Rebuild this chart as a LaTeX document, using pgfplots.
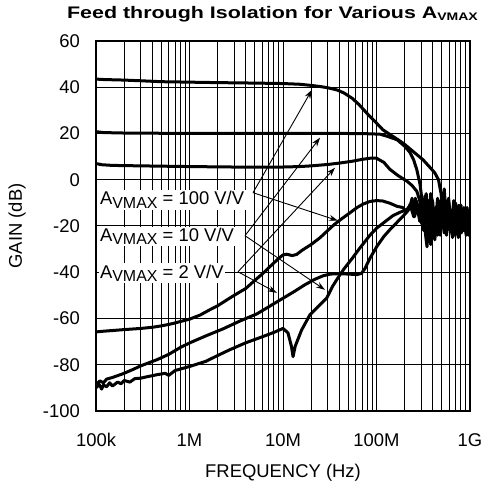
\documentclass[border=0pt]{standalone}
\usepackage{graphicx}
\usepackage{fontspec}
\setmainfont{Liberation Sans}
\usepackage{pgfplots}
\pgfplotsset{compat=1.18}
\usetikzlibrary{arrows.meta}
\newcommand{\avmax}{A\raisebox{-3.5bp}{\fontsize{16}{16}\selectfont VMAX}}
\begin{document}
\begin{tikzpicture}
\begin{axis}[
  scale only axis, width=374bp, height=370bp,
  xmode=log, xmin=1e5, xmax=1e9, ymin=-100, ymax=60,
  font=\fontsize{18.5}{22}\selectfont,
  xtick={1e5,1e6,1e7,1e8,1e9}, xticklabels={100k,1M,10M,100M,1G},
  ytick={-100,-80,-60,-40,-20,0,20,40,60},
  yticklabels={-100,-80,-60,-40,-20,0,20,40,60},
  major tick length=0pt, minor tick length=0pt,
  grid=both,
  major grid style={black, line width=1bp},
  minor grid style={black, line width=1bp},
  axis line style={line width=1.8bp},
  xticklabel style={anchor=base, yshift=-35bp, inner sep=0pt},
  yticklabel style={anchor=east, inner sep=0pt, xshift=-16bp},
  xlabel={FREQUENCY (Hz)}, ylabel={GAIN (dB)},
  xlabel style={at={(axis description cs:0.5,0)}, anchor=base, yshift=-66bp, inner sep=0pt},
  ylabel style={at={(axis description cs:0,0.5)}, anchor=center, rotate=0, yshift=79bp, inner sep=0pt},
  title={\scalebox{1.28}[1]{\bfseries\fontsize{16.8}{20}\selectfont Feed through Isolation for Various A\raisebox{-2.4bp}{\fontsize{11}{11}\selectfont VMAX}}},
  title style={at={(axis description cs:0,1)}, anchor=base, xshift=176.5bp, yshift=16.7bp, inner sep=0pt},
  cycle list={{black, mark=none}},
  every axis plot/.append style={line width=3bp, line join=round, line cap=round},
]
% gain 100, high
\addplot table {
1e5 43.6
1.1e5 43.4
1.3e5 43.3
2e5 43.1
3e5 42.8
5e5 42.4
1e6 42.2
2e6 42.0
5e6 41.8
1e7 41.6
1.5e7 41.3
2e7 40.8
2.5e7 40.3
3e7 39.8
3.8e7 38.8
4.5e7 37.5
5.5e7 35.2
6.5e7 32.5
8e7 28.5
1e8 24.5
1.17e8 21.6
1.4e8 19.5
1.7e8 17.3
2e8 15.3
2.5e8 12
3.15e8 8.6
3.7e8 5.5
4.2e8 3
4.6e8 0
4.9e8 -6
5.1e8 -12
5.3e8 -4
5.6e8 -18
5.9e8 -8
6.3e8 -21
6.7e8 -9
7.1e8 -20
7.6e8 -11
8.1e8 -23
8.6e8 -12
9.1e8 -21
9.6e8 -14
1e9 -19
};
% gain 10, high
\addplot table {
1e5 20.8
1.2e5 20.4
2e5 20.2
5e5 20.1
1e6 20.0
1e7 20.0
5e7 20.0
8e7 19.9
1.09e8 19.7
1.3e8 18.8
1.66e8 17.3
2e8 14.5
2.29e8 11.7
2.5e8 8.5
2.7e8 4.3
2.92e8 -2
3.05e8 -8
3.2e8 -15
3.35e8 -24
3.47e8 -29
3.6e8 -18
3.8e8 -6
4e8 -10
4.2e8 -22
4.5e8 -8
4.8e8 -24
5.1e8 -12
5.5e8 -20
5.9e8 -9
6.4e8 -23
6.9e8 -12
7.4e8 -24
8e8 -11
8.6e8 -22
9.2e8 -14
9.6e8 -24
1e9 -19
};
% gain 2, high
\addplot table {
1e5 7.0
1.15e5 6.5
1.5e5 6.2
3e5 6.0
1e6 5.7
3e6 5.5
1e7 5.5
1.5e7 5.7
2e7 6.0
3e7 6.6
4e7 7.2
5.5e7 8.0
7e7 8.8
8.5e7 9.3
1e8 9.3
1.2e8 7.5
1.39e8 4.5
1.7e8 1.8
2.13e8 -0.7
2.4e8 -2.5
2.7e8 -5
2.9e8 -9
3.1e8 -20
3.25e8 -12
3.4e8 -6
3.6e8 -22
3.9e8 -10
4.2e8 -26
4.5e8 -13
4.8e8 -22
5.2e8 -9
5.6e8 -24
6e8 -13
6.5e8 -21
7e8 -10
7.5e8 -24
8.1e8 -14
8.7e8 -22
9.3e8 -12
1e9 -22
};
% gain 100, low
\addplot table {
1e5 -65.8
1.2e5 -65.5
1.5e5 -65.2
2e5 -64.8
3e5 -64.3
4e5 -63.8
5e5 -63.2
6.6e5 -62.2
8e5 -61.3
1e6 -60.3
1.3e6 -58.5
1.6e6 -56.5
2e6 -54.5
2.5e6 -52
3e6 -50
4e6 -47
5e6 -43.5
6.1e6 -40.5
7.5e6 -37
9e6 -34
1.0e7 -32.5
1.1e7 -32.2
1.25e7 -32.8
1.4e7 -32.3
1.6e7 -30.5
2e7 -28
2.5e7 -25
3e7 -22
3.5e7 -19.5
4.2e7 -17
5.2e7 -14.3
6.2e7 -12
7.2e7 -10.5
8.5e7 -9.4
1e8 -9
1.17e8 -9.2
1.4e8 -10.2
1.66e8 -11.5
1.91e8 -12
2.1e8 -14
2.25e8 -12.5
2.4e8 -8
2.55e8 -16
2.7e8 -11
2.9e8 -18
3.1e8 -10
3.3e8 -20
3.6e8 -9
3.9e8 -23
4.3e8 -12
4.7e8 -21
5.2e8 -10
5.7e8 -22
6.2e8 -13
6.8e8 -24
7.4e8 -12
8e8 -21
8.7e8 -14
9.3e8 -23
1e9 -17
};
% gain 10, low
\addplot table {
1e5 -88.5
1.1e5 -87.0
1.2e5 -87.8
1.3e5 -86.2
1.5e5 -85.5
1.94e5 -83.9
2.5e5 -82
3e5 -80.5
4.5e5 -77.8
6e5 -75.5
8e5 -72.5
1.01e6 -70.5
1.5e6 -67.5
2.28e6 -64.5
3.5e6 -61
5.26e6 -58
7e6 -55
9.3e6 -52
1.3e7 -48.5
1.7e7 -45.5
2.2e7 -43
2.7e7 -41.5
3.2e7 -40.8
4e7 -40.6
5e7 -40.8
6.2e7 -41
6.9e7 -40.5
7.5e7 -38.5
8.5e7 -34
1.01e8 -28.8
1.2e8 -24.5
1.39e8 -21.6
1.65e8 -18.5
1.91e8 -15.9
2.1e8 -14
2.3e8 -10.5
2.45e8 -14
2.6e8 -8
2.8e8 -15
3e8 -12
3.2e8 -22
3.45e8 -11
3.7e8 -25
4e8 -14
4.4e8 -20
4.8e8 -9
5.3e8 -23
5.8e8 -12
6.3e8 -22
6.9e8 -14
7.5e8 -25
8.2e8 -13
8.9e8 -21
9.5e8 -15
1e9 -24
};
% gain 2, low
\addplot table {
1e5 -90
1.08e5 -88.5
1.15e5 -90.5
1.2e5 -88.8
1.3e5 -89.5
1.4e5 -87.8
1.5e5 -89.2
1.7e5 -87.5
1.85e5 -88.2
2e5 -86.8
2.3e5 -87.5
2.6e5 -86
3e5 -85.8
3.5e5 -85.2
4.5e5 -84.3
5.5e5 -83.7
6e5 -84.6
7e5 -82.5
1.01e6 -80.7
1.5e6 -78.5
2.0e6 -76
2.7e6 -73.5
4e6 -70.5
6.1e6 -67.8
8e6 -66
1e7 -64.3
1.13e7 -66.2
1.23e7 -72
1.28e7 -76.5
1.35e7 -72
1.58e7 -65
1.94e7 -58.4
2.5e7 -54
2.95e7 -51
3.4e7 -46
4e7 -41.5
4.5e7 -38.5
5.5e7 -34
6.5e7 -30
8.5e7 -24
1e8 -21
1.2e8 -18.5
1.5e8 -15.5
1.8e8 -14
2.1e8 -13
2.3e8 -11
2.5e8 -16
2.65e8 -9
2.85e8 -13
3.05e8 -19
3.3e8 -7
3.55e8 -16
3.8e8 -28
4.1e8 -13
4.5e8 -24
4.9e8 -11
5.4e8 -21
5.9e8 -14
6.5e8 -25
7.1e8 -11
7.8e8 -20
8.5e8 -15
9.1e8 -24
1e9 -21
};
% labels and arrows
\node[fill=white, inner sep=1.5bp, anchor=base west] at (axis cs:1.06e5,-10.8) {\avmax{} = 100 V/V};
\node[fill=white, inner sep=1.5bp, anchor=base west] at (axis cs:1.06e5,-26.7) {\avmax{} = 10 V/V};
\node[fill=white, inner sep=1.5bp, anchor=base west] at (axis cs:1.06e5,-42.5) {\avmax{} = 2 V/V};
\begin{scope}[line width=0.9bp, -{Stealth[length=9bp,width=6bp]}]
\draw (axis cs:4.78e6,-5.6) -- (axis cs:2.04e7,38.9);
\draw (axis cs:4.78e6,-5.6) -- (axis cs:3.87e7,-17.7);
\draw (axis cs:3.92e6,-24.2) -- (axis cs:2.49e7,18.2);
\draw (axis cs:3.92e6,-24.2) -- (axis cs:2.81e7,-47.6);
\draw (axis cs:3.3e6,-39.8) -- (axis cs:3.6e7,5.2);
\draw (axis cs:3.3e6,-39.8) -- (axis cs:8.6e6,-48.9);
\end{scope}
\end{axis}
\path ([shift={(-96bp,-76bp)}]current axis.south west) rectangle ([shift={(12bp,41bp)}]current axis.north east);
\end{tikzpicture}
\end{document}
